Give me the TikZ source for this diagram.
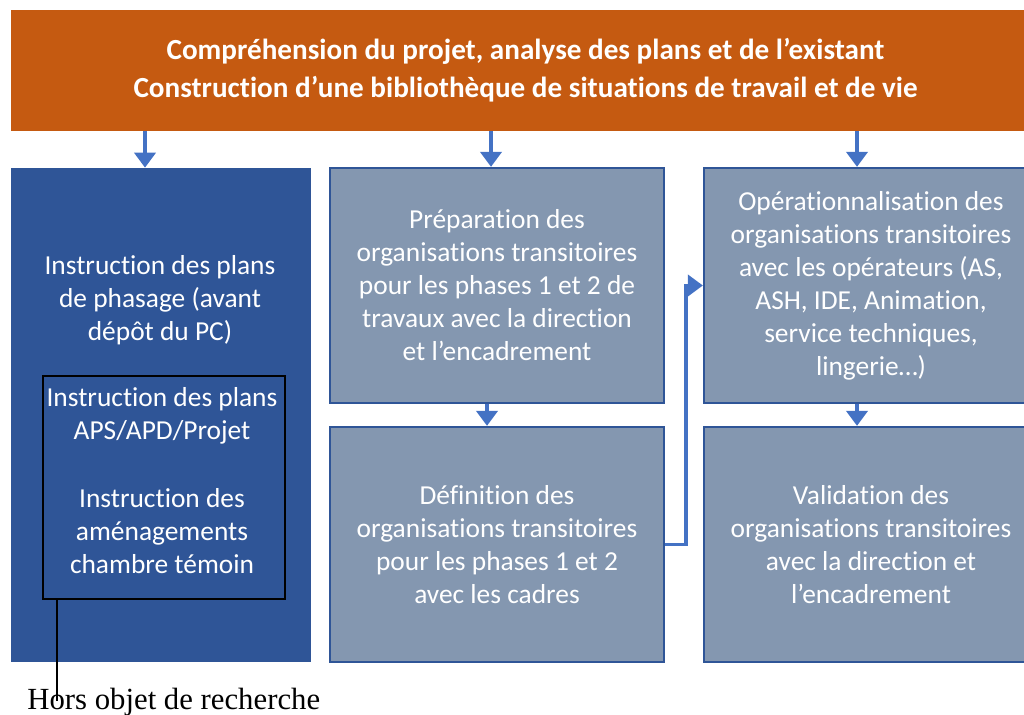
\documentclass[tikz,border=0pt]{standalone}
\usepackage{fontspec}
\setmainfont{Carlito}[Ligatures=NoCommon]
\newfontfamily\notefont{Liberation Serif}
\usetikzlibrary{arrows.meta, positioning}
\definecolor{bandorange}{RGB}{197,90,17}
\definecolor{darkbox}{RGB}{47,85,151}
\definecolor{greybox}{RGB}{132,151,176}
\definecolor{flowblue}{RGB}{68,114,196}

\begin{document}
\begin{tikzpicture}[
    x=0.02cm, y=-0.02cm,
    band/.style={rectangle, fill=bandorange, text=white, minimum width=20.58cm, minimum height=2.42cm, font=\fontsize{16.6}{21.5}\selectfont\bfseries, align=center},
    phase/.style={rectangle, draw=darkbox, fill=greybox, line width=1.3pt, text=white, minimum width=6.68cm, minimum height=4.7cm, font=\fontsize{15.6}{18.8}\selectfont, align=center},
    plans/.style={rectangle, fill=darkbox, minimum width=6cm, minimum height=9.88cm},
    body/.style={text=white, font=\fontsize{15.6}{18.8}\selectfont, align=center},
    outside/.style={rectangle, draw=black, line width=1.1pt, minimum width=4.84cm, minimum height=4.46cm, inner sep=0pt},
    flow/.style={-{Triangle[width=0.42cm, length=0.3cm]}, flowblue, line width=2.2pt}
]
    \useasboundingbox (0,0) rectangle (1024,715);

    % Top band
    \node[band] (band) at (525.5, 70.5) {Compréhension du projet, analyse des plans et de l’existant\\Construction d’une bibliothèque de situations de travail et de vie};

    % Left column
    \node[plans] (plans) at (161, 415) {};
    \node[body] (phasage) at (160, 300) {Instruction des plans\\de phasage (avant\\dépôt du PC)};
    \node[outside] (hors) at (164, 487.5) {};
    \node[body] (aps) at (162, 416) {Instruction des plans\\APS/APD/Projet};
    \node[body] (cham) at (162, 531) {Instruction des\\aménagements\\chambre témoin};

    % Middle column
    \node[phase] (prep) at (497, 285.5) {Préparation des\\organisations transitoires\\pour les phases 1 et 2 de\\travaux avec la direction\\et l’encadrement};
    \node[phase] (defi) at (497, 544.5) {Définition des\\organisations transitoires\\pour les phases 1 et 2\\avec les cadres};

    % Right column
    \node[phase] (oper) at (871, 285.5) {Opérationnalisation des\\organisations transitoires\\avec les opérateurs (AS,\\ASH, IDE, Animation,\\service techniques,\\lingerie…)};
    \node[phase] (vali) at (871, 544.5) {Validation des\\organisations transitoires\\avec la direction et\\l’encadrement};

    % Arrows
    \draw[flow] ([xshift=-0.32cm]plans.north |- band.south) -- ([xshift=-0.32cm]plans.north);
    \draw[flow] ([xshift=-0.12cm]prep.north |- band.south) -- ([xshift=-0.12cm]prep.north);
    \draw[flow] ([xshift=-0.28cm]oper.north |- band.south) -- ([xshift=-0.28cm]oper.north);
    \draw[flow] ([xshift=-0.2cm]prep.south) -- ([xshift=-0.2cm]defi.north);
    \draw[flow] ([xshift=-0.28cm]oper.south) -- ([xshift=-0.28cm]vali.north);
    \draw[flow] (defi.east) -- ++(21,0) |- (oper.west);

    % Note
    \node[font=\notefont\fontsize{17.5}{19}\selectfont, anchor=base west, inner sep=0pt] (note) at (27, 709) {Hors objet de recherche};
    \draw[line width=1.1pt] ([xshift=0.3cm]hors.south west) -- ++(0,101);
\end{tikzpicture}
\end{document}
